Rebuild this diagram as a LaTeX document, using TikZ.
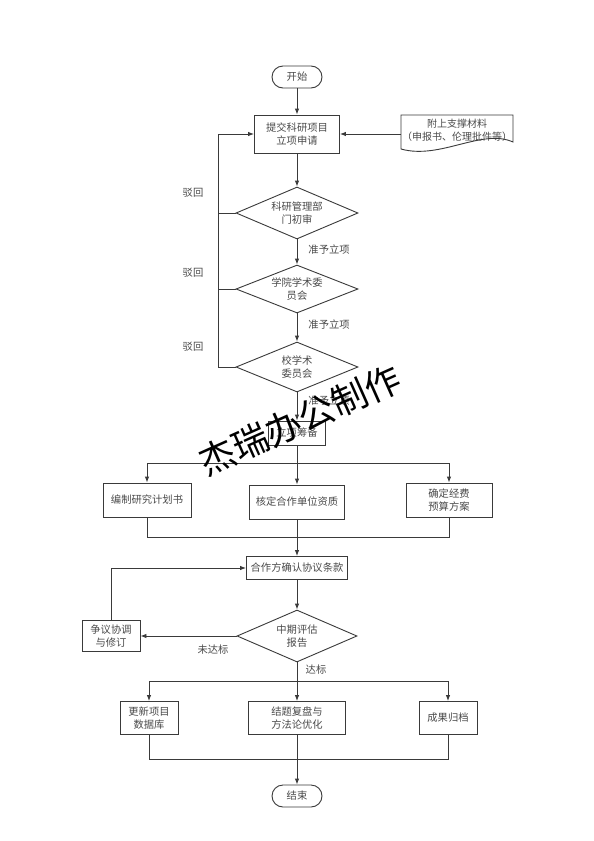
\documentclass[tikz,border=0pt]{standalone}
\usepackage{fontspec}
\setmainfont{Noto Sans CJK SC}
\usetikzlibrary{arrows.meta,shapes.geometric,calc}
\definecolor{Line}{HTML}{3A3A3A}
\definecolor{Txt}{HTML}{4A4A4A}
\newcommand{\flowfont}{\fontsize{10.3}{13}\selectfont}

\tikzset{
  box/.style={draw=Line,line width=0.9pt,fill=white,align=center,inner sep=1pt,font=\flowfont,text=Txt},
  decision/.style={diamond,draw=Line,line width=0.9pt,fill=white,align=center,inner sep=0pt,aspect=2.3,minimum width=122pt,minimum height=52pt,font=\flowfont,text=Txt},
  term/.style={draw=Line,line width=0.9pt,fill=white,rounded corners=11pt,minimum width=50pt,minimum height=22pt,inner sep=0pt,font=\flowfont,text=Txt},
  flow/.style={-{Latex[length=6pt,width=4.5pt]},Line,line width=0.9pt},
  link/.style={Line,line width=0.9pt},
  lbl/.style={font=\flowfont,text=Txt,inner sep=1pt},
}

\begin{document}
\begin{tikzpicture}[x=1pt,y=-1pt]
\useasboundingbox[fill=white] (0,0) rectangle (594,841);

% main column
\node[term] (start) at (297,77) {开始};
\node[box,minimum width=85pt,minimum height=38pt] (submit) at (297,134) {提交科研项目\\立项申请};
\node[lbl,align=center,font=\fontsize{10}{13}\selectfont] (attach) at (457,130) {附上支撑材料\\（申报书、伦理批件等）};
\draw[Line,line width=0.9pt] (401,115) -- (513,115) -- (513,142) .. controls (482,128) and (440,160) .. (401,149) -- cycle;
\node[decision] (d1) at (297,213) {科研管理部\\门初审};
\node[decision,minimum height=48pt] (d2) at (297,289) {学院学术委\\员会};
\node[decision,minimum height=50pt] (d3) at (297,367) {校学术\\委员会};
\node[box,minimum width=57pt,minimum height=24pt] (prep) at (297,433) {立项筹备};

\draw[flow] (start) -- (submit);
\draw[flow] (401,134) -- (submit.east);
\draw[flow] (submit) -- (d1);
\draw[flow] (d1) -- node[lbl,right=10pt,pos=0.4] (ok1) {准予立项} (d2);
\draw[flow] (d2) -- node[lbl,right=10pt,pos=0.4] (ok2) {准予立项} (d3);
\draw[flow] (d3) -- node[lbl,right=10pt,pos=0.3] (ok3) {准予立项} (prep);

% rejection loop
\coordinate (rej) at (218,367);
\draw[link] (d1.west) -- (d1.west -| rej);
\draw[link] (d2.west) -- (d2.west -| rej);
\draw[flow] (d3.west) -- (rej) |- (submit.west);
\node[lbl] (back1) at (193,193) {驳回};
\node[lbl] (back2) at (193,273) {驳回};
\node[lbl] (back3) at (193,347) {驳回};

% parallel preparation
\node[box,minimum width=88pt,minimum height=34pt] (plan) at (147,500) {编制研究计划书};
\node[box,minimum width=95pt,minimum height=34pt] (partner) at (297,502) {核定合作单位资质};
\node[box,minimum width=86pt,minimum height=34pt] (budget) at (449,500) {确定经费\\预算方案};
\coordinate (split1) at (297,463);
\coordinate (join1) at (297,537);
\draw[link] (prep) -- (split1);
\draw[link] (split1 -| plan) -- (split1 -| budget);
\draw[flow] (split1 -| plan) -- (plan);
\draw[flow] (split1) -- (partner);
\draw[flow] (split1 -| budget) -- (budget);
\draw[link] (plan) |- (join1);
\draw[link] (budget) |- (join1);
\draw[link] (partner) -- (join1);

\node[box,minimum width=101pt,minimum height=23pt] (agree) at (297,568) {合作方确认协议条款};
\draw[flow] (join1) -- (agree);
\node[decision,minimum width=120pt] (mid) at (297,636) {中期评估\\报告};
\draw[flow] (agree) -- (mid);
\node[box,minimum width=58pt,minimum height=31pt] (revise) at (111,636) {争议协调\\与修订};
\draw[flow] (mid) -- (revise);
\node[lbl] (fail) at (213,650) {未达标};
\draw[flow] (revise) |- (agree);

% closing
\node[box,minimum width=58pt,minimum height=33pt] (db) at (149,718) {更新项目\\数据库};
\node[box,minimum width=97pt,minimum height=33pt] (review) at (297,718) {结题复盘与\\方法论优化};
\node[box,minimum width=58pt,minimum height=33pt] (archive) at (448,718) {成果归档};
\coordinate (split2) at (297,681);
\draw[link] (mid) -- (split2);
\node[lbl] (pass) at (316,670) {达标};
\draw[link] (split2 -| db) -- (split2 -| archive);
\draw[flow] (split2 -| db) -- (db);
\draw[flow] (split2) -- (review);
\draw[flow] (split2 -| archive) -- (archive);
\coordinate (join2) at (297,759);
\draw[link] (db) |- (join2);
\draw[link] (archive) |- (join2);
\node[term] (stop) at (297,796) {结束};
\draw[flow] (review) -- (stop);

% watermark
\node[rotate=24,font=\fontsize{36}{40}\selectfont,text=black] (mark) at (300,420) {杰瑞办公制作};
\end{tikzpicture}
\end{document}
